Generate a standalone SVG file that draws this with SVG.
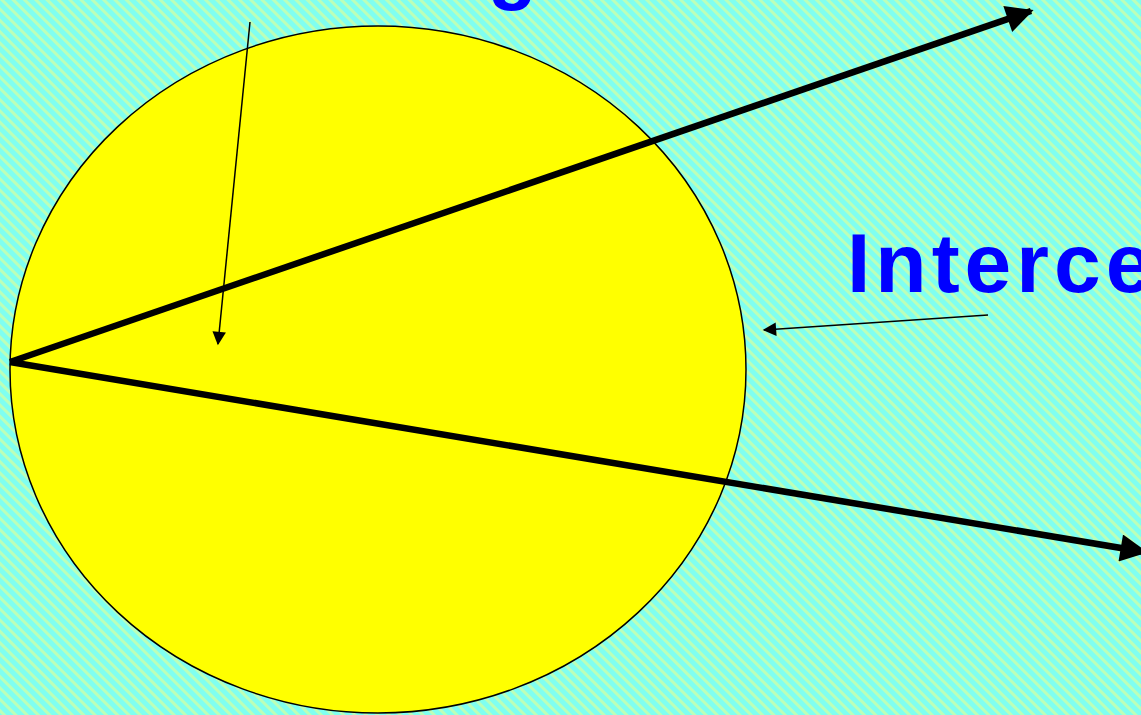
<svg xmlns="http://www.w3.org/2000/svg" width="1141" height="715" viewBox="0 0 1141 715">
<style>
.thick{stroke:#000;stroke-width:6.5;fill:none}
.thin{stroke:#000;stroke-width:1.5;fill:none}
.lbl{font-family:"Comic Sans MS","Liberation Sans",sans-serif;font-weight:bold;fill:#0000FF}
</style>
<defs>
<pattern id="hatch" width="8" height="8" patternUnits="userSpaceOnUse" patternTransform="rotate(-45)">
<rect width="8" height="8" fill="#80FFF0"/>
<rect x="0" width="3" height="8" fill="#BCFFB8"/>
</pattern>
<marker id="bigArrow" viewBox="0 0 10 10" refX="9" refY="5" markerWidth="5" markerHeight="4.2" orient="auto" markerUnits="strokeWidth">
<path d="M0,0 L10,5 L0,10 z" fill="#000"/>
</marker>
<marker id="smallArrow" viewBox="0 0 10 10" refX="9" refY="5" markerWidth="12" markerHeight="9" orient="auto" markerUnits="strokeWidth">
<path d="M0,0 L10,5 L0,10 z" fill="#000"/>
</marker>
</defs>
<rect width="1141" height="715" fill="url(#hatch)"/>
<g id="circle">
<ellipse cx="378" cy="369.5" rx="368" ry="343.5" fill="#FFFF00" stroke="#000" stroke-width="1.5"/>
</g>
<g id="labels">
<text class="lbl" x="488" y="-6" font-size="80">g</text>
<text class="lbl" x="847" y="292" font-size="84" letter-spacing="5">Interce</text>
</g>
<g id="connectors">
<line class="thick" x1="10" y1="362" x2="1031" y2="11" marker-end="url(#bigArrow)"/>
<line class="thick" x1="10" y1="362" x2="1145" y2="552" marker-end="url(#bigArrow)"/>
<line class="thin" x1="250" y1="22" x2="218" y2="344" marker-end="url(#smallArrow)"/>
<line class="thin" x1="988" y1="315" x2="764" y2="330" marker-end="url(#smallArrow)"/>
</g>
</svg>
